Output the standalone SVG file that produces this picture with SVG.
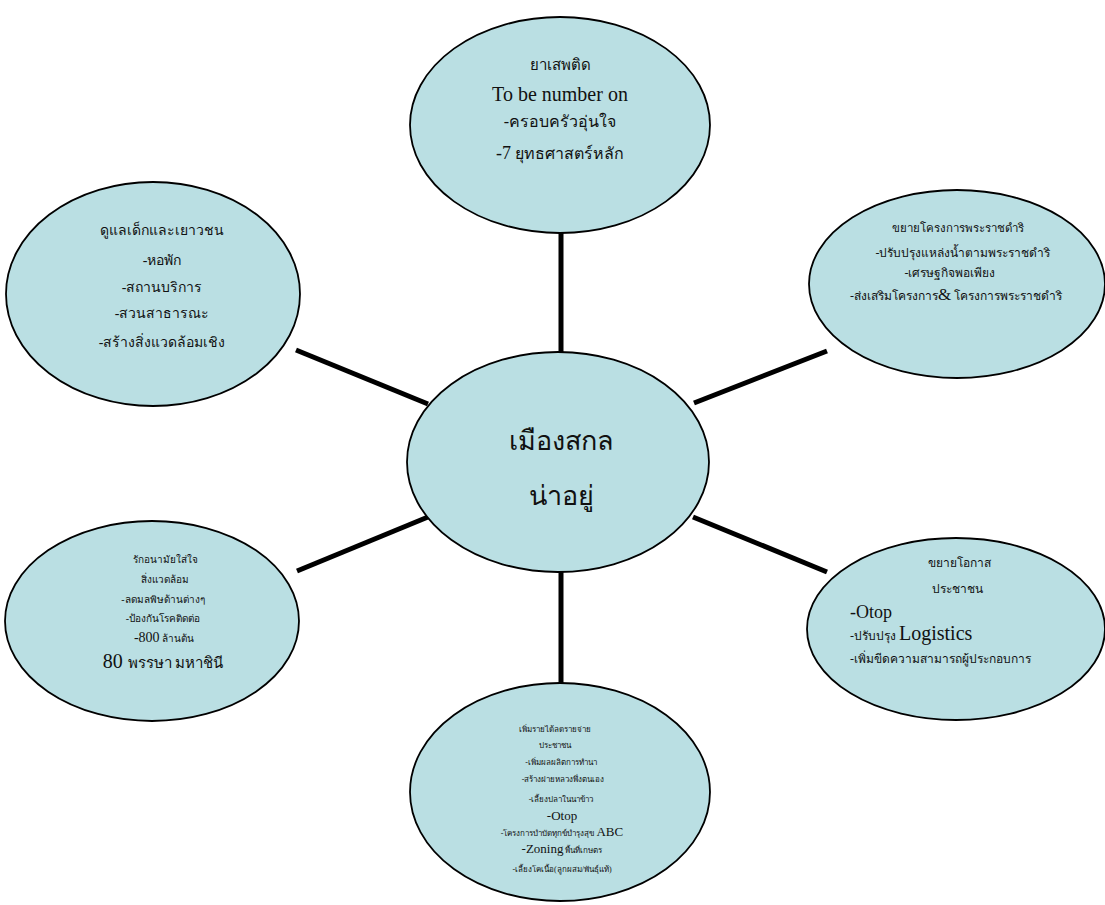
<svg xmlns="http://www.w3.org/2000/svg" width="1105" height="905" viewBox="0 0 1105 905">
<style>
.n{fill:#BADFE3;stroke:#000;stroke-width:1.8}
.c{stroke:#000;stroke-width:5;fill:none}
text{font-family:"Liberation Serif","Noto Sans",serif;fill:#111;text-anchor:middle}
.ctr{font-family:"Noto Sans","DejaVu Sans",sans-serif;font-size:27px}
.l{text-anchor:start}
</style>
<rect width="1105" height="905" fill="#fff"/>
<g id="connectors">
<line class="c" x1="561" y1="225" x2="561" y2="360"/>
<line class="c" x1="296" y1="350" x2="428" y2="404"/>
<line class="c" x1="694" y1="403" x2="827" y2="351"/>
<line class="c" x1="297" y1="571" x2="428" y2="517"/>
<line class="c" x1="693" y1="517" x2="827" y2="572"/>
<line class="c" x1="561" y1="565" x2="561" y2="690"/>
</g>
<g id="node-top">
<ellipse class="n" cx="560" cy="125" rx="150" ry="108"/>
<text x="560" y="70" font-size="15">ยาเสพติด</text>
<text x="560" y="101" font-size="20">To be number on</text>
<text x="560" y="127" font-size="16">-ครอบครัวอุ่นใจ</text>
<text x="560" y="159" font-size="16"><tspan font-size="18">-7</tspan> ยุทธศาสตร์หลัก</text>
</g>
<g id="node-left-upper">
<ellipse class="n" cx="153" cy="294" rx="147" ry="112"/>
<text x="162" y="235" font-size="14">ดูแลเด็กและเยาวชน</text>
<text x="162" y="265" font-size="14">-หอพัก</text>
<text x="162" y="292" font-size="14">-สถานบริการ</text>
<text x="162" y="318" font-size="14">-สวนสาธารณะ</text>
<text x="162" y="347" font-size="14">-สร้างสิ่งแวดล้อมเชิง</text>
</g>
<g id="node-right-upper">
<ellipse class="n" cx="957" cy="284" rx="148" ry="94"/>
<text x="958" y="232" font-size="11.5">ขยายโครงการพระราชดำริ</text>
<text x="963" y="257" font-size="12">-ปรับปรุงแหล่งน้ำตามพระราชดำริ</text>
<text x="950" y="277" font-size="12">-เศรษฐกิจพอเพียง</text>
<text x="956" y="300" font-size="12">-ส่งเสริมโครงการ<tspan font-size="17">&amp;</tspan> โครงการพระราชดำริ</text>
</g>
<g id="node-center">
<ellipse class="n" cx="558" cy="462" rx="151" ry="110"/>
<text class="ctr" x="561" y="450">เมืองสกล</text>
<text class="ctr" x="561" y="505">น่าอยู่</text>
</g>
<g id="node-left-lower">
<ellipse class="n" cx="152" cy="621" rx="147" ry="100"/>
<text x="165" y="563" font-size="10">รักอนามัยใส่ใจ</text>
<text x="165" y="583" font-size="10">สิ่งแวดล้อม</text>
<text x="163" y="603" font-size="10">-ลดมลพิษด้านต่างๆ</text>
<text x="163" y="622" font-size="10">-ป้องกันโรคติดต่อ</text>
<text x="164" y="642" font-size="10"><tspan font-size="14">-800</tspan> ล้านต้น</text>
<text x="163" y="668" font-size="20">80 <tspan font-size="15">พรรษา มหาชินี</tspan></text>
</g>
<g id="node-right-lower">
<ellipse class="n" cx="956" cy="629" rx="149" ry="91"/>
<text x="959" y="567" font-size="12">ขยายโอกาส</text>
<text x="957" y="593" font-size="12">ประชาชน</text>
<text class="l" x="850" y="618" font-size="18">-Otop</text>
<text class="l" x="850" y="640" font-size="12">-ปรับปรุง <tspan font-size="20">Logistics</tspan></text>
<text class="l" x="850" y="663" font-size="12">-เพิ่มขีดความสามารถผู้ประกอบการ</text>
</g>
<g id="node-bottom">
<ellipse class="n" cx="560" cy="792" rx="150" ry="109"/>
<text x="555" y="732" font-size="8">เพิ่มรายได้ลดรายจ่าย</text>
<text x="555" y="748" font-size="8">ประชาชน</text>
<text x="561" y="765" font-size="8">-เพิ่มผลผลิตการทำนา</text>
<text x="563" y="782" font-size="8">-สร้างฝายหลวงพึ่งตนเอง</text>
<text x="561" y="802" font-size="8">-เลี้ยงปลาในนาข้าว</text>
<text x="562" y="820" font-size="13">-Otop</text>
<text x="562" y="836" font-size="8">-โครงการบำบัดทุกข์บำรุงสุข <tspan font-size="13">ABC</tspan></text>
<text x="562" y="853" font-size="8"><tspan font-size="13">-Zoning</tspan> พื้นที่เกษตร</text>
<text x="562" y="872" font-size="8">-เลี้ยงโคเนื้อ(ลูกผสม/พันธุ์แท้)</text>
</g>
</svg>
